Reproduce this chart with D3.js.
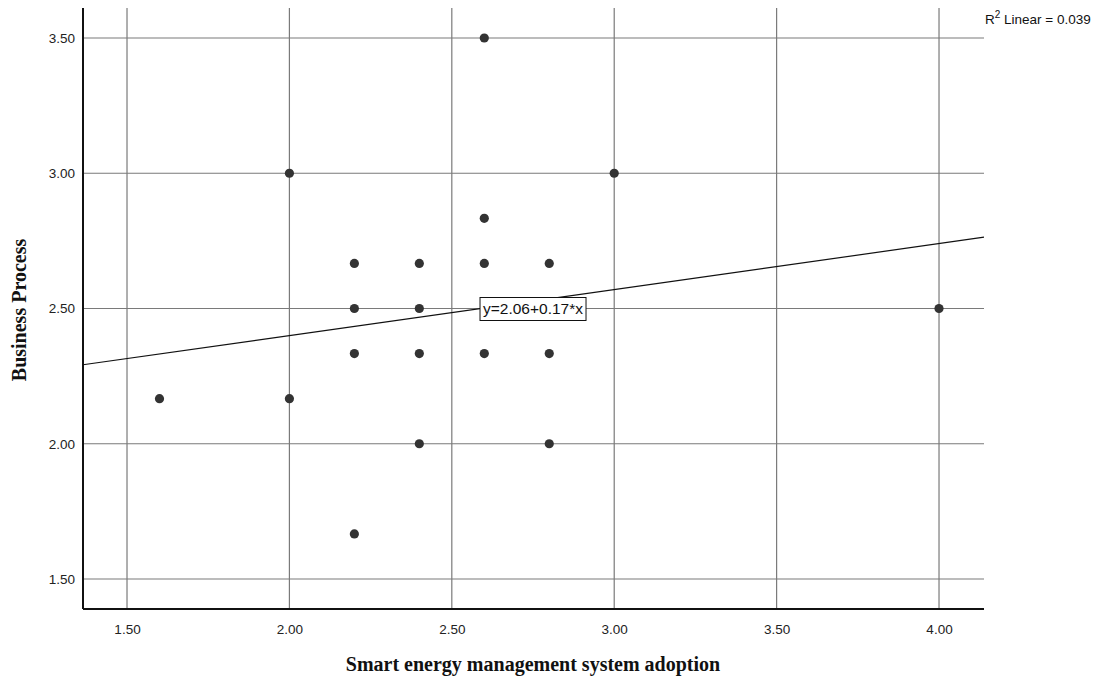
<!DOCTYPE html>
<html>
<head>
<meta charset="utf-8">
<script src="https://cdn.jsdelivr.net/npm/d3@7"></script>
<style>
  body { margin: 0; background: #fff; }
</style>
</head>
<body>
<div id="chart"></div>
<script>
(function(){
	// data
	const adoption = [1.6, 2.0, 2.0, 2.2, 2.2, 2.2, 2.2, 2.4, 2.4, 2.4, 2.4, 2.6, 2.6, 2.6, 2.6, 2.8, 2.8, 2.8, 3.0, 4.0];
	const process  = [2.1667, 3.0, 2.1667, 2.6667, 2.5, 2.3333, 1.6667, 2.6667, 2.5, 2.3333, 2.0, 3.5, 2.8333, 2.6667, 2.3333, 2.6667, 2.3333, 2.0, 3.0, 2.5];
	const xTicks = [1.5, 2.0, 2.5, 3.0, 3.5, 4.0];
	const yTicks = [1.5, 2.0, 2.5, 3.0, 3.5];
	const intercept = 2.06, slope = 0.17;
	const fitLabel = "y=2.06+0.17*x";
	const r2Label = "0.039";

	const SANS = "'Liberation Sans', Arial, sans-serif";
	const SERIF = "'Liberation Serif', 'Times New Roman', serif";

	const width = 1103, height = 679;
	const margin = { top: 8, left: 83, right: 119, bottom: 70 };
	const innerW = width - margin.left - margin.right,
		  innerH = height - margin.top - margin.bottom;

	const svg = d3.select("#chart")
				  .append("svg")
				  .attr("width", width)
				  .attr("height", height);

	const g = svg.append("g")
				 .attr("transform", "translate(" + margin.left + "," + margin.top + ")");

	const x = d3.scaleLinear().domain([1.3645, 4.1385]).range([0, innerW]);
	const y = d3.scaleLinear().domain([1.389, 3.611]).range([innerH, 0]);

	// gridlines
	g.selectAll(".vgrid")
	 .data(xTicks)
	 .enter().append("line")
	 .attr("x1", d => x(d)).attr("x2", d => x(d))
	 .attr("y1", 0).attr("y2", innerH)
	 .attr("stroke", "#7a7a7a").attr("stroke-width", 1.2);

	g.selectAll(".hgrid")
	 .data(yTicks)
	 .enter().append("line")
	 .attr("x1", 0).attr("x2", innerW)
	 .attr("y1", d => y(d)).attr("y2", d => y(d))
	 .attr("stroke", "#7a7a7a").attr("stroke-width", 1.2);

	// axes
	const xAxis = g.append("g")
				   .attr("transform", "translate(0," + innerH + ")")
				   .call(d3.axisBottom(x).tickValues(xTicks).tickFormat(d3.format(".2f")).tickSize(0).tickPadding(15));
	const yAxis = g.append("g")
				   .call(d3.axisLeft(y).tickValues(yTicks).tickFormat(d3.format(".2f")).tickSize(0).tickPadding(8));

	[xAxis, yAxis].forEach(a => {
		a.attr("font-size", 13.5).attr("font-family", SANS);
		a.select(".domain").attr("stroke", "#111").attr("stroke-width", 2);
		a.selectAll("text").attr("fill", "#222");
	});
	yAxis.select(".domain").attr("d", "M0," + innerH + "V0");
	xAxis.select(".domain").attr("d", "M0,0H" + innerW);

	// fit line
	const xd = x.domain();
	g.append("line")
	 .attr("x1", x(xd[0])).attr("y1", y(intercept + slope * xd[0]))
	 .attr("x2", x(xd[1])).attr("y2", y(intercept + slope * xd[1]))
	 .attr("stroke", "#111").attr("stroke-width", 1.2);

	// points
	g.selectAll(".pt")
	 .data(adoption.map((d, i) => [d, process[i]]))
	 .enter().append("circle")
	 .attr("cx", d => x(d[0]))
	 .attr("cy", d => y(d[1]))
	 .attr("r", 4.6)
	 .attr("fill", "#333");

	// equation label
	const lx = 2.75, ly = 2.5;
	const lab = g.append("g").attr("transform", "translate(" + x(lx) + "," + y(ly) + ")");
	lab.append("rect")
	   .attr("x", -53).attr("y", -11).attr("width", 106).attr("height", 23)
	   .attr("fill", "#fff").attr("stroke", "#111").attr("stroke-width", 1);
	lab.append("text")
	   .attr("text-anchor", "middle").attr("dy", "0.35em")
	   .attr("font-family", SANS)
	   .attr("font-size", 14.5).attr("fill", "#111")
	   .attr("textLength", 100).attr("lengthAdjust", "spacingAndGlyphs")
	   .text(fitLabel);

	// R2
	const r2 = svg.append("text")
				  .attr("x", 985).attr("y", 24)
				  .attr("font-family", SANS)
				  .attr("font-size", 13.5).attr("fill", "#111");
	r2.append("tspan").text("R");
	r2.append("tspan").attr("dy", -6).attr("font-size", 10).text("2");
	r2.append("tspan").attr("dy", 6).text(" Linear = " + r2Label);

	// axis titles
	svg.append("text")
	   .attr("x", 533).attr("y", 671)
	   .attr("text-anchor", "middle")
	   .attr("font-family", SERIF)
	   .attr("font-weight", "bold").attr("font-size", 20).attr("fill", "#111")
	   .text("Smart energy management system adoption");

	svg.append("text")
	   .attr("transform", "translate(26," + 310 + ") rotate(-90)")
	   .attr("text-anchor", "middle")
	   .attr("font-family", SERIF)
	   .attr("font-weight", "bold").attr("font-size", 20).attr("fill", "#111")
	   .text("Business Process");
})();
</script>
</body>
</html>
